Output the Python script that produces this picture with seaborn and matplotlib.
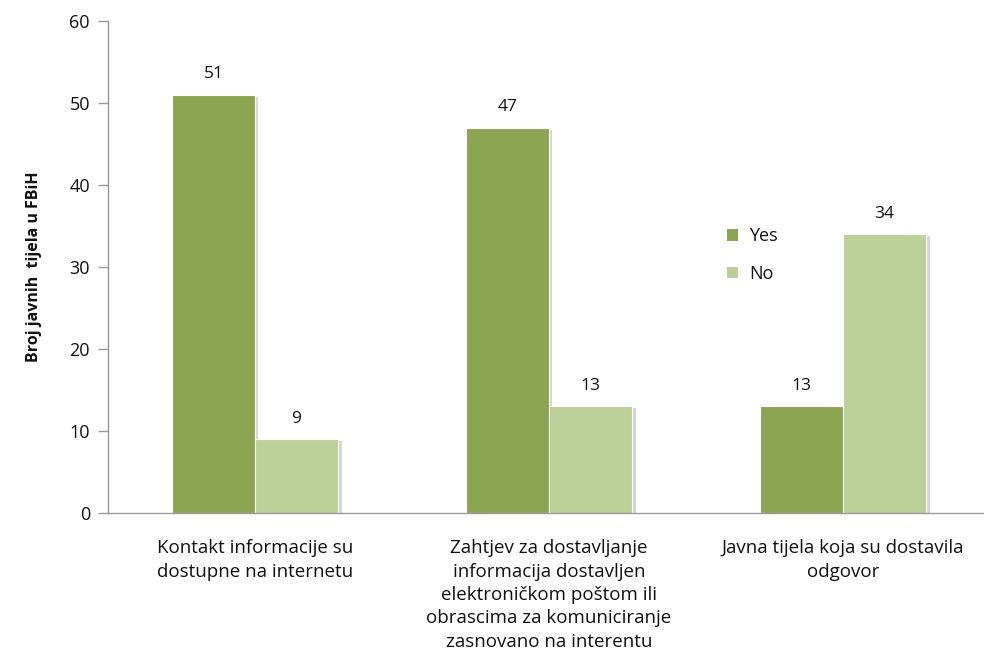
import matplotlib
matplotlib.use("Agg")
import matplotlib.pyplot as plt
import matplotlib.patheffects as pe
import seaborn as sns
import pandas as pd

categories = [
    "Kontakt informacije su\ndostupne na internetu",
    "Zahtjev za dostavljanje\ninformacija dostavljen\nelektroničkom poštom ili\nobrascima za komuniciranje\nzasnovano na interentu",
    "Javna tijela koja su dostavila\nodgovor",
]
yes_values = [51, 47, 13]
no_values = [9, 13, 34]
series = ["Yes", "No"]
colors = ["#8BA552", "#BBCF98"]
y_ticks = [0, 10, 20, 30, 40, 50, 60]

df = pd.DataFrame({
    "cat": categories * 2,
    "series": ["Yes"] * 3 + ["No"] * 3,
    "value": yes_values + no_values,
})

sns.set_theme(style="white")
plt.rcParams["font.family"] = ["Open Sans", "DejaVu Sans"]

fig = plt.figure(figsize=(9.84, 6.66), dpi=100)
ax = fig.add_axes([108 / 984, 1 - 513 / 666, 882 / 984, 492 / 666])

sns.barplot(data=df, x="cat", y="value", hue="series", hue_order=series,
            palette=colors, width=0.565, saturation=1, ax=ax, legend=True,
            edgecolor="white", linewidth=0.8)

for cont in ax.containers:
    for patch in cont:
        patch.set_path_effects([pe.SimplePatchShadow(offset=(2.5, -1.5), shadow_rgbFace="#bbbbbb", alpha=0.6), pe.Normal()])
    ax.bar_label(cont, fmt="%d", padding=9, fontsize=12.5, color="#111111")

ax.set_ylim(0, 60)
ax.set_xlim(-0.5, 2.5)
ax.set_yticks(y_ticks)
ax.set_yticklabels([str(t) for t in y_ticks], fontsize=13, color="#111111")
ax.tick_params(axis="y", which="both", left=True, length=7, width=1, color="#999999", pad=6)
ax.tick_params(axis="x", bottom=False, pad=13)
for lbl in ax.get_xticklabels():
    lbl.set_fontsize(13.5)
    lbl.set_color("#111111")
    lbl.set_linespacing(1.38)
    lbl.set_va("top")

ax.set_xlabel("")
ax.set_ylabel("Broj javnih  tijela u FBiH", fontsize=11.5, fontweight="bold", labelpad=20, color="#111111")
for s in ["top", "right"]:
    ax.spines[s].set_visible(False)
for s in ["left", "bottom"]:
    ax.spines[s].set_color("#999999")
    ax.spines[s].set_linewidth(1)

leg = ax.legend(loc="upper left", bbox_to_anchor=(603 / 882, 1 - 190 / 492), frameon=False,
                fontsize=13, handlelength=0.6, handleheight=0.6, labelspacing=1.1,
                handletextpad=0.6)
for h in leg.legend_handles:
    h.set_path_effects([])
    h.set_edgecolor("none")
for t in leg.get_texts():
    t.set_color("#111111")

fig.savefig("out.png", dpi=100)
